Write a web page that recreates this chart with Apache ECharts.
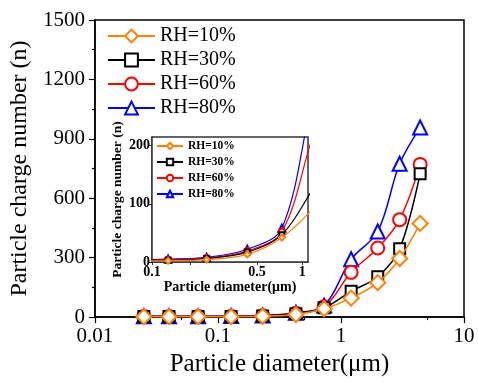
<!DOCTYPE html>
<html>
<head>
<meta charset="utf-8">
<script src="https://cdn.jsdelivr.net/npm/echarts@6/dist/echarts.min.js"></script>
<style>html,body{margin:0;padding:0;background:#fff}#c{width:478px;height:382px}</style>
</head>
<body>
<div id="c"></div>
<script>
// ---- data ----
const diameters = [0.025, 0.04, 0.069, 0.128, 0.231, 0.43, 0.73, 1.21, 1.99, 3.0, 4.4];
const rh10 = [2, 2, 2, 2, 4, 13, 42, 96, 174, 296, 473];
const rh30 = [3, 3, 3, 3, 6, 17, 47, 130, 204, 345, 724];
const rh60 = [3, 3, 3, 4, 7, 19, 52, 226, 349, 492, 771];
const rh80 = [4, 4, 4, 5, 8, 22, 58, 292, 432, 774, 957];
const seriesNames = ['RH=10%', 'RH=30%', 'RH=60%', 'RH=80%'];
const mainXMinorTicks = [0.05, 0.5, 5];
const insetXTicks = [0.1, 0.5, 1];
const insetXMinorTicks = [0.18];
const insetYTicks = [0, 100, 200];

const values = [rh10, rh30, rh60, rh80];
const colors = ['#FF8000', '#000000', '#FF0000', '#0000FF'];
const symbols = ['emptyDiamond', 'emptyRect', 'emptyCircle', 'emptyTriangle'];
const mainSizes = [15, 11, 13, 14];
const insetSizes = [6, 5, 6, 7];
const serif = '"Liberation Serif", "Times New Roman", serif';
const lg = v => Math.log10(v);
const fmt = v => String(parseFloat(Math.pow(10, v).toPrecision(3)));

const series = [];
values.forEach((vals, i) => {
  const pts = diameters.map((d, k) => [lg(d), vals[k]]);
  series.push({
    name: seriesNames[i], type: 'line', xAxisIndex: 0, yAxisIndex: 0,
    data: pts, smooth: 0.35, symbol: symbols[i], symbolSize: mainSizes[i],
    z: 10 - i, color: colors[i],
    lineStyle: {color: colors[i], width: 1.5},
    itemStyle: {color: colors[i], borderColor: colors[i], borderWidth: 2.2}
  });
});
values.forEach((vals, i) => {
  const pts = diameters.map((d, k) => [lg(d), vals[k]]);
  series.push({
    name: seriesNames[i], type: 'line', xAxisIndex: 2, yAxisIndex: 1,
    data: pts, smooth: 0.35, symbol: symbols[i], symbolSize: insetSizes[i],
    z: 20 - i, color: colors[i], clip: true,
    lineStyle: {color: colors[i], width: 1.2},
    itemStyle: {color: colors[i], borderColor: colors[i], borderWidth: 1.2}
  });
});

const chart = echarts.init(document.getElementById('c'), null, {renderer: 'canvas'});
chart.setOption({
  animation: false,
  backgroundColor: '#fff',
  textStyle: {fontFamily: serif},
  grid: [
    {left: 87, right: 14, top: 20, bottom: 61, show: true, borderColor: '#000', borderWidth: 1.5, backgroundColor: 'transparent'},
    {left: 152, top: 137, width: 156, height: 125, show: true, borderColor: '#333', borderWidth: 1.5, backgroundColor: '#fff', z: 5}
  ],
  legend: [
    {
      data: seriesNames, left: 107, top: 26, orient: 'vertical', padding: 0,
      itemWidth: 47, itemHeight: 16, itemGap: 4,
      textStyle: {fontFamily: serif, fontSize: 20, color: '#000'}
    },
    {
      data: seriesNames, left: 156, top: 140, orient: 'vertical', padding: 0,
      itemWidth: 26, itemHeight: 8, itemGap: 4, z: 30,
      textStyle: {fontFamily: serif, fontSize: 11.5, fontWeight: 'bold', color: '#000'}
    }
  ],
  xAxis: [
    {
      gridIndex: 0, type: 'value', position: 'bottom', min: -2, max: 1, interval: 1,
      name: 'Particle diameter(μm)', nameLocation: 'middle', nameGap: 34,
      nameTextStyle: {fontFamily: serif, fontSize: 25, color: '#000'},
      axisLine: {onZero: false, lineStyle: {color: '#000', width: 1.5}},
      axisTick: {show: true, inside: false, length: 6, lineStyle: {color: '#000', width: 1.2}},
      axisLabel: {formatter: fmt, fontFamily: serif, fontSize: 21, color: '#000', margin: 9},
      splitLine: {show: false}
    },
    {
      gridIndex: 0, type: 'value', position: 'bottom', offset: 0, min: -2, max: 1,
      axisLine: {show: false, onZero: false},
      axisTick: {show: true, inside: false, length: 3, customValues: mainXMinorTicks.map(lg), lineStyle: {color: '#000', width: 1.2}},
      axisLabel: {show: false},
      splitLine: {show: false}
    },
    {
      gridIndex: 1, type: 'value', position: 'bottom', min: -1, max: lg(1.09),
      name: 'Particle diameter(μm)', nameLocation: 'middle', nameGap: 15,
      nameTextStyle: {fontFamily: serif, fontSize: 14, fontWeight: 'bold', color: '#000'},
      axisLine: {onZero: false, lineStyle: {color: '#333', width: 1.5}},
      axisTick: {show: true, inside: false, length: 3, customValues: insetXTicks.concat(insetXMinorTicks).map(lg), lineStyle: {color: '#333'}},
      axisLabel: {customValues: insetXTicks.map(lg), formatter: fmt, fontFamily: serif, fontSize: 14, fontWeight: 'bold', color: '#000', margin: 3},
      splitLine: {show: false}
    }
  ],
  yAxis: [
    {
      gridIndex: 0, type: 'value', min: 0, max: 1500, interval: 300,
      name: 'Particle charge number (n)', nameLocation: 'middle', nameGap: 59,
      nameTextStyle: {fontFamily: serif, fontSize: 24, color: '#000'},
      axisLine: {show: true, onZero: false, lineStyle: {color: '#000', width: 1.5}},
      axisTick: {show: true, inside: false, length: 6, lineStyle: {color: '#000', width: 1.2}},
      minorTick: {show: true, splitNumber: 2, length: 3, lineStyle: {color: '#000', width: 1.2}},
      axisLabel: {formatter: v => String(v), fontFamily: serif, fontSize: 21, color: '#000', margin: 10},
      splitLine: {show: false}, minorSplitLine: {show: false}
    },
    {
      gridIndex: 1, type: 'value', min: 0, max: 215,
      name: 'Particle charge number (n)', nameLocation: 'middle', nameGap: 27,
      nameTextStyle: {fontFamily: serif, fontSize: 13.5, fontWeight: 'bold', color: '#000'},
      axisLine: {show: true, onZero: false, lineStyle: {color: '#333', width: 1.5}},
      axisTick: {show: true, inside: false, length: 3, customValues: insetYTicks, lineStyle: {color: '#333'}},
      axisLabel: {customValues: insetYTicks, formatter: v => String(v), fontFamily: serif, fontSize: 14, fontWeight: 'bold', color: '#000', margin: 2},
      splitLine: {show: false}
    }
  ],
  series: series
});
</script>
</body>
</html>
